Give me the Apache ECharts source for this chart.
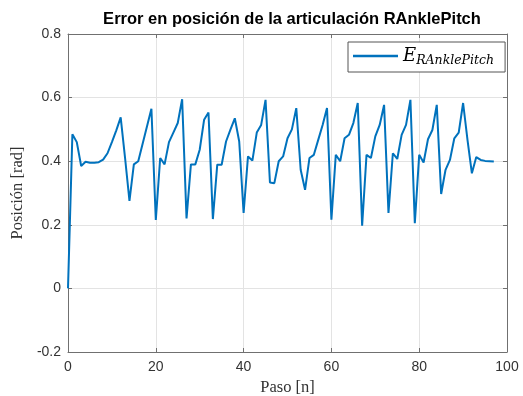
<!DOCTYPE html>
<html><head><meta charset="utf-8">
<script src="https://cdn.jsdelivr.net/npm/echarts@6/dist/echarts.min.js"></script>
<style>html,body{margin:0;padding:0;background:#fff}#c{width:523px;height:396px}</style>
</head><body><div id="c"></div>
<script>
const steps = Array.from({length: 98}, (_, i) => i);
const errValues = [
 0, 0.485, 0.46, 0.385, 0.398, 0.395, 0.395, 0.397, 0.405, 0.425,
 0.46, 0.497, 0.538, 0.41, 0.275, 0.39, 0.40, 0.455, 0.51, 0.565,
 0.215, 0.41, 0.39, 0.46, 0.49, 0.52, 0.595, 0.22, 0.39, 0.39,
 0.436, 0.53, 0.553, 0.218, 0.389, 0.389, 0.462, 0.499, 0.535, 0.462,
 0.237, 0.415, 0.402, 0.49, 0.514, 0.593, 0.333, 0.331, 0.40, 0.415,
 0.472, 0.50, 0.567, 0.373, 0.31, 0.41, 0.42, 0.467, 0.514, 0.567,
 0.216, 0.42, 0.40, 0.472, 0.483, 0.52, 0.583, 0.197, 0.42, 0.41,
 0.478, 0.514, 0.577, 0.237, 0.425, 0.407, 0.483, 0.514, 0.593, 0.205,
 0.42, 0.396, 0.469, 0.498, 0.577, 0.297, 0.373, 0.404, 0.472, 0.49,
 0.583, 0.467, 0.362, 0.413, 0.404, 0.401, 0.40, 0.399
];
const xTicks = [0, 20, 40, 60, 80, 100];
const yTicks = [-0.2, 0, 0.2, 0.4, 0.6, 0.8];
const titleText = 'Error en posición de la articulación RAnklePitch';
const xName = 'Paso [n]';
const yName = 'Posición [rad]';
const seriesName = 'E_RAnklePitch';

const chart = echarts.init(document.getElementById('c'), null, {renderer: 'canvas'});
const axisCol = '#707070';
const textCol = '#333333';
const labelStyle = {color: textCol, fontFamily: 'Liberation Sans, Arial', fontSize: 14};
const gridLine = {show: true, lineStyle: {color: '#e3e3e3', width: 1}};
const serif = 'Liberation Serif, DejaVu Serif';
chart.setOption({
  animation: false,
  backgroundColor: '#fff',
  title: {
    text: titleText, left: 287, top: 6, textAlign: 'center',
    textStyle: {fontFamily: 'Liberation Sans, Arial', fontWeight: 'bold', fontSize: 16.5, color: '#000'}
  },
  grid: {left: 68, right: 16, top: 34, bottom: 44, containLabel: false, outerBoundsMode: 'none'},
  legend: {
    left: 348, top: 42, orient: 'horizontal',
    backgroundColor: '#fff', borderColor: '#555', borderWidth: 1, borderRadius: 0,
    padding: [5, 11, 5, 5],
    icon: 'rect',
    itemWidth: 45, itemHeight: 2.5, itemGap: 4,
    data: [{name: seriesName}],
    formatter: function () { return '{e|E}{s|RAnklePitch}'; },
    textStyle: {
      rich: {
        e: {fontFamily: 'DejaVu Serif', fontStyle: 'italic', fontSize: 18, color: '#000', padding: [0,0,0,0]},
        s: {fontFamily: 'DejaVu Serif', fontStyle: 'italic', fontSize: 12.5, color: '#000', padding: [9,0,0,0]}
      }
    }
  },
  xAxis: [{
    type: 'value', min: 0, max: 100, interval: 20,
    name: xName, nameLocation: 'middle', nameGap: 23,
    nameTextStyle: {fontFamily: serif, fontSize: 16.5, color: textCol},
    axisLine: {show: true, onZero: false, lineStyle: {color: axisCol, width: 1}},
    axisTick: {show: true, inside: true, length: 4, lineStyle: {color: axisCol}},
    axisLabel: Object.assign({margin: 8, formatter: v => xTicks.includes(v) ? String(v) : ''}, labelStyle),
    splitLine: gridLine
  }, {
    type: 'value', min: 0, max: 100, interval: 20, position: 'top',
    axisLine: {show: true, onZero: false, lineStyle: {color: axisCol, width: 1}},
    axisTick: {show: true, inside: true, length: 4, lineStyle: {color: axisCol}},
    axisLabel: {show: false}, splitLine: {show: false}
  }],
  yAxis: [{
    type: 'value', min: -0.2, max: 0.8, interval: 0.2,
    name: yName, nameLocation: 'middle', nameGap: 41,
    nameTextStyle: {fontFamily: serif, fontSize: 16.5, color: textCol},
    axisLine: {show: true, onZero: false, lineStyle: {color: axisCol, width: 1}},
    axisTick: {show: true, inside: true, length: 4, lineStyle: {color: axisCol}},
    axisLabel: Object.assign({margin: 7, formatter: v => {
      const r = Math.round(v * 10) / 10; return r === 0 ? '0' : String(r);
    }}, labelStyle),
    splitLine: gridLine
  }, {
    type: 'value', min: -0.2, max: 0.8, interval: 0.2, position: 'right',
    axisLine: {show: true, onZero: false, lineStyle: {color: axisCol, width: 1}},
    axisTick: {show: true, inside: true, length: 4, lineStyle: {color: axisCol}},
    axisLabel: {show: false}, splitLine: {show: false}
  }],
  series: [{
    name: seriesName, type: 'line', symbol: 'none',
    data: steps.map((s, i) => [s, errValues[i]]),
    lineStyle: {color: '#0072BD', width: 2},
    itemStyle: {color: '#0072BD'}
  }]
});
</script></body></html>
